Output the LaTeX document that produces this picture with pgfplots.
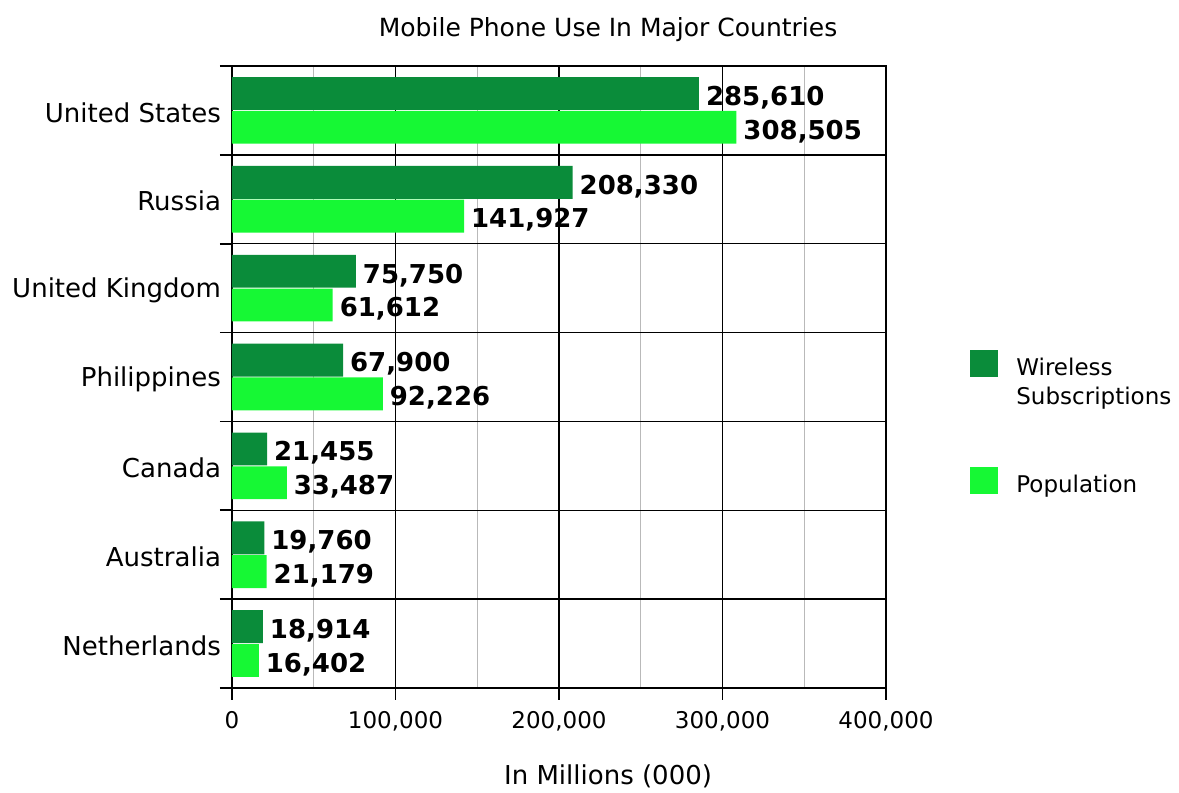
\documentclass[border=0pt]{standalone}
\usepackage{pgfplots}
\pgfplotsset{compat=1.18}
\usepackage{pgfplotstable}
\usepackage{fontspec}
\setmainfont{DejaVu Sans}
\definecolor{darkg}{RGB}{10,140,58}
\definecolor{lightg}{RGB}{22,248,52}
\pgfplotstableread{
y wireless population
6 285610 308505
5 208330 141927
4 75750 61612
3 67900 92226
2 21455 33487
1 19760 21179
0 18914 16402
}\data
\begin{document}
\begin{tikzpicture}
\begin{axis}[
  name=ax,
  scale only axis,
  width=327pt, height=311pt,
  xbar, bar width=0.37,
  xmin=0, xmax=400000,
  ymin=-0.5, ymax=6.5,
  scaled x ticks=false,
  /pgf/number format/assume math mode=true,
  xtick={0,100000,200000,300000,400000},
  xticklabels={0,{100,000},{200,000},{300,000},{400,000}},
  minor xtick={50000,150000,250000,350000},
  ytick={-0.5,0.5,1.5,2.5,3.5,4.5,5.5,6.5},
  yticklabels={},
  extra y ticks={0,1,2,3,4,5,6},
  extra y tick labels={Netherlands,Australia,Canada,Philippines,United Kingdom,Russia,United States},
  extra y tick style={grid=none, major tick length=0pt, yticklabel style={xshift=-2pt, yshift=-1pt}},
  tick pos=left,
  tick align=outside,
  major tick length=6pt,
  minor tick length=0pt,
  xmajorgrids, xminorgrids, ymajorgrids,
  major grid style={black, line width=0.7pt},
  minor grid style={gray!55, line width=0.5pt},
  tick style={black, line width=0.8pt},
  axis line style={black, line width=0.9pt},
  xticklabel style={font=\fontsize{11.5}{13}\selectfont, yshift=-2pt},
  yticklabel style={font=\fontsize{13}{15}\selectfont},
  title={Mobile Phone Use In Major Countries},
  title style={at={(0.575,1)}, anchor=base, yshift=8.5pt, font=\fontsize{12.5}{15}\selectfont},
  xlabel={In Millions (000)},
  xlabel style={at={(axis description cs:0.575,0)}, anchor=base, yshift=-48.5pt, font=\fontsize{13}{15}\selectfont},
  point meta=x,
  nodes near coords={\pgfmathprintnumber[1000 sep={,}, fixed, precision=0]{\pgfplotspointmeta}},
  nodes near coords style={anchor=west, yshift=-2pt, font=\bfseries\fontsize{13}{15}\selectfont, black},
  legend cell align=left,
  legend style={at={(1.1284,0.5434)}, anchor=north west, draw=none, fill=none, inner sep=0pt,
    row sep=42.5pt, column sep=7pt, font=\fontsize{11.5}{14.5}\selectfont,
    cells={anchor=base west}},
]
\addplot[fill=darkg, draw=none, bar shift=0.19,
  legend image code/.code={\fill[darkg] (0pt,-1pt) rectangle (14pt,12.5pt);}]
  table[x=wireless, y=y] {\data};
\addlegendentry{\begin{tabular}[t]{@{}l@{}}Wireless\\Subscriptions\end{tabular}}
\addplot[fill=lightg, draw=none, bar shift=-0.19,
  legend image code/.code={\fill[lightg] (0pt,-1pt) rectangle (14pt,12.5pt);}]
  table[x=population, y=y] {\data};
\addlegendentry{Population}
\end{axis}
\pgfresetboundingbox
\path ([shift={(-116pt,-52.5pt)}]ax.south west) rectangle ([shift={(146.5pt,33pt)}]ax.north east);
\end{tikzpicture}
\end{document}
